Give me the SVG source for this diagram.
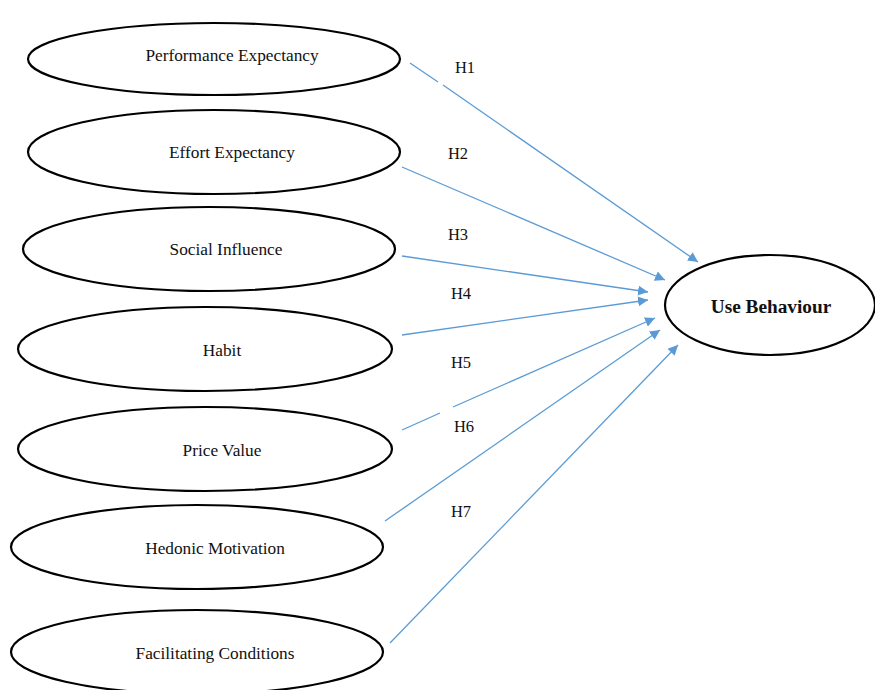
<svg xmlns="http://www.w3.org/2000/svg" width="875" height="690" viewBox="0 0 875 690">
<style>
.n{fill:#fff;stroke:#000;stroke-width:2.2}
.t{font-family:"Liberation Serif","Times New Roman",serif;font-size:17.3px;fill:#111;text-anchor:middle;dominant-baseline:central}
.b{font-weight:bold;font-size:19.3px}
.c line{stroke:#5b9bd5;stroke-width:1.3}
.l{font-family:"Liberation Serif","Times New Roman",serif;font-size:16.5px;fill:#111;text-anchor:middle;dominant-baseline:central}
</style>
<defs>
<marker id="a" viewBox="0 0 10 10" refX="10" refY="5" markerWidth="10" markerHeight="10" markerUnits="userSpaceOnUse" orient="auto">
<path d="M0,0 L10,5 L0,10 z" fill="#5b9bd5"/>
</marker>
</defs>
<rect width="875" height="690" fill="#fff"/>
<g id="n1"><ellipse class="n" cx="214" cy="59" rx="186" ry="36"/><text class="t" x="232" y="55">Performance Expectancy</text></g>
<g id="n2"><ellipse class="n" cx="214" cy="152" rx="186" ry="42"/><text class="t" x="232" y="152">Effort Expectancy</text></g>
<g id="n3"><ellipse class="n" cx="209" cy="249" rx="186" ry="42"/><text class="t" x="226" y="249">Social Influence</text></g>
<g id="n4"><ellipse class="n" cx="205" cy="349" rx="187" ry="42"/><text class="t" x="222" y="350">Habit</text></g>
<g id="n5"><ellipse class="n" cx="205" cy="449" rx="187" ry="42"/><text class="t" x="222" y="450">Price Value</text></g>
<g id="n6"><ellipse class="n" cx="197" cy="547" rx="186" ry="42"/><text class="t" x="215" y="548">Hedonic Motivation</text></g>
<g id="n7"><ellipse class="n" cx="197" cy="652" rx="186" ry="42"/><text class="t" x="215" y="653">Facilitating Conditions</text></g>
<g id="ub"><ellipse class="n" cx="770" cy="305" rx="105" ry="50"/><text class="t b" x="771" y="306">Use Behaviour</text></g>
<g class="c" id="connectors">
<line x1="410" y1="63" x2="438" y2="82"/>
<line x1="443" y1="85" x2="698" y2="262" marker-end="url(#a)"/>
<line x1="402" y1="167" x2="665" y2="280" marker-end="url(#a)"/>
<line x1="402" y1="256" x2="648" y2="292" marker-end="url(#a)"/>
<line x1="402" y1="335" x2="648" y2="300" marker-end="url(#a)"/>
<line x1="402" y1="430" x2="440" y2="413"/>
<line x1="453" y1="407" x2="655" y2="318" marker-end="url(#a)"/>
<line x1="385" y1="521" x2="660" y2="330" marker-end="url(#a)"/>
<line x1="390" y1="643" x2="678" y2="345" marker-end="url(#a)"/>
</g>
<g id="labels">
<text class="l" x="465" y="67">H1</text>
<text class="l" x="458" y="153">H2</text>
<text class="l" x="458" y="234">H3</text>
<text class="l" x="461" y="293">H4</text>
<text class="l" x="461" y="362">H5</text>
<text class="l" x="464" y="426">H6</text>
<text class="l" x="461" y="511">H7</text>
</g>
</svg>
